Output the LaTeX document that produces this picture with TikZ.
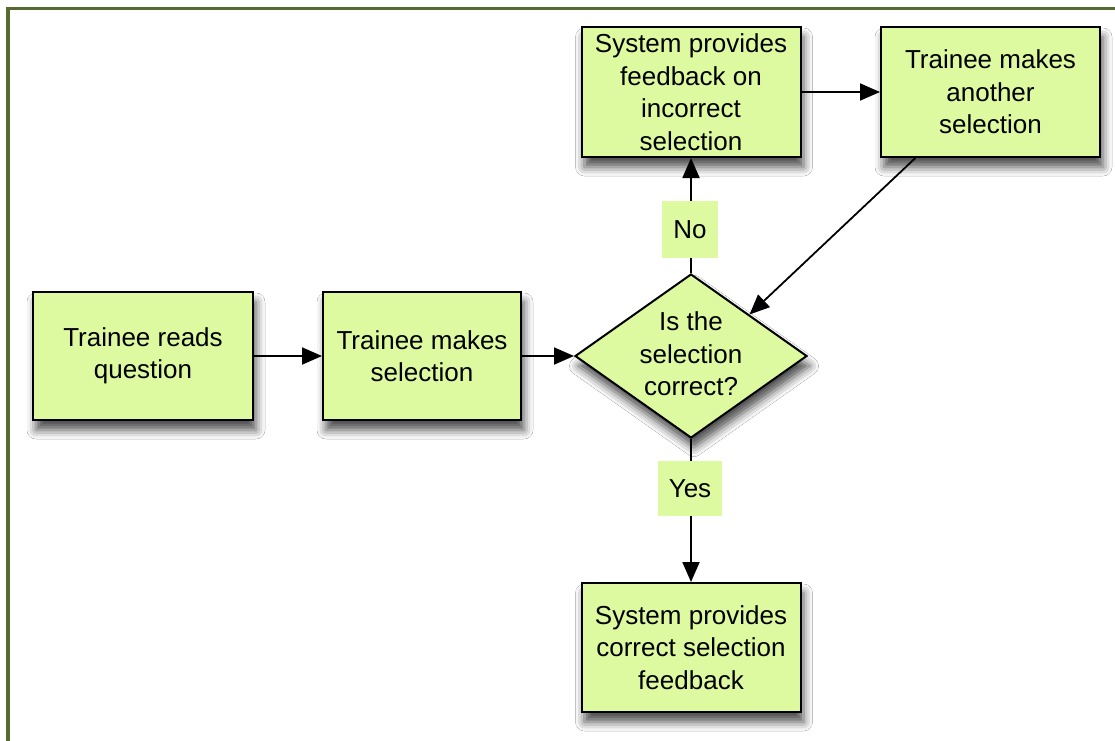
\documentclass[tikz,border=0pt]{standalone}
\usepackage{fontspec}
\setmainfont{Liberation Sans}
\usetikzlibrary{shapes.geometric,arrows.meta,shadows.blur,calc}
\definecolor{boxfill}{RGB}{221,250,160}
\definecolor{framecol}{RGB}{85,107,47}
\tikzset{
  txt/.style={font=\fontsize{26}{32.5}\selectfont, align=center},
  shad/.style={blur shadow={shadow xshift=3pt, shadow yshift=-10pt, shadow blur radius=9pt, shadow opacity=70}},
  procbox/.style={txt, rectangle, draw=black, line width=2pt, fill=boxfill, inner sep=0pt, shad},
  decbox/.style={diamond, draw=black, line width=2pt, fill=boxfill, inner sep=0pt, minimum width=232pt, minimum height=164pt, shad},
  lbl/.style={txt, rectangle, fill=boxfill, inner sep=0pt},
  conn/.style={draw=black, line width=1.8pt, -{Triangle[length=20pt,width=17pt]}},
}
\begin{document}
\begin{tikzpicture}[x=1pt,y=-1pt]
\useasboundingbox (0,0) rectangle (1115,740);
\fill[white] (0,0) rectangle (1115,740);
% frame
\draw[framecol, line width=3.5pt] (8,742) -- (8,8.5) -- (1117,8.5);
% nodes
\node[procbox, minimum width=220pt, minimum height=128pt] (read) at (143,356) {Trainee reads\\question};
\node[procbox, minimum width=198pt, minimum height=128pt] (sel) at (422,356) {Trainee makes\\selection};
\node[decbox] (dec) at (691,356) {};
\node[txt] (dectxt) at (691,354) {Is the\\selection\\correct?};
\node[procbox, minimum width=219pt, minimum height=130pt] (fbinc) at (691,92) {System provides\\feedback on\\incorrect\\selection};
\node[procbox, minimum width=219pt, minimum height=130pt] (another) at (990.5,92) {Trainee makes\\another\\selection};
\node[procbox, minimum width=219pt, minimum height=129pt] (fbcor) at (691,647.5) {System provides\\correct selection\\feedback};
% connectors
\draw[conn] (read.east) -- (sel.west);
\draw[conn] (sel.east) -- (dec.west);
\draw[conn] (dec.north) -- (fbinc.south);
\draw[conn] (fbinc.east) -- (another.west);
\coordinate (astart) at ($(another.south west)!0.16!(another.south east)$);
\draw[conn] (astart) -- (dec.north east);
\draw[conn] (dec.south) -- (fbcor.north);
% labels
\node[lbl, minimum width=56pt, minimum height=57pt] (no) at (690,229.5) {No};
\node[lbl, minimum width=64pt, minimum height=55pt] (yes) at (690,488.5) {Yes};
\end{tikzpicture}
\end{document}
